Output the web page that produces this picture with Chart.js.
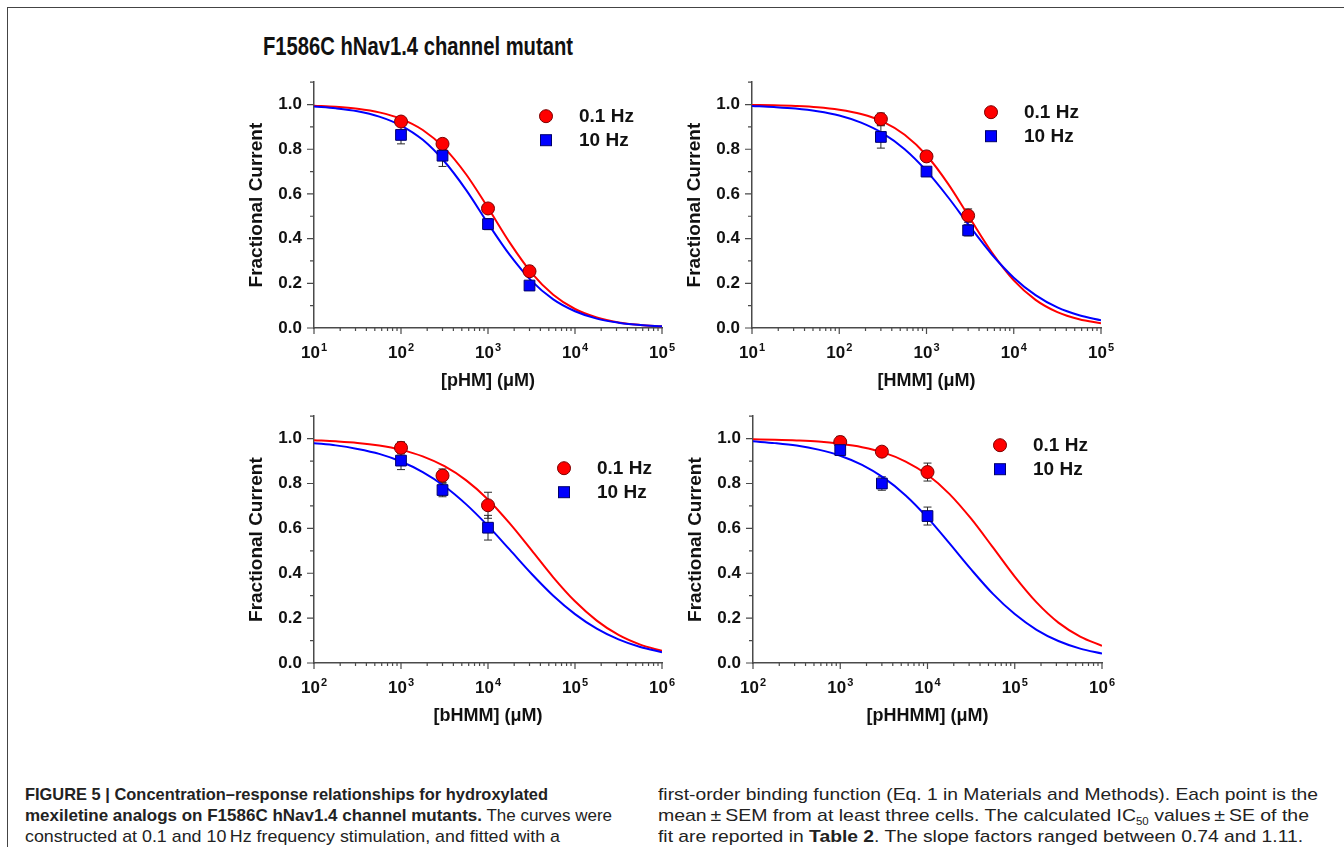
<!DOCTYPE html>
<html>
<head>
<meta charset="utf-8">
<script src="https://cdn.jsdelivr.net/npm/chart.js@4.4.1/dist/chart.umd.min.js"></script>
<style>
  body { margin: 0; background: #fff; width: 1344px; height: 847px; overflow: hidden; position: relative;
         font-family: "Liberation Sans", Arial, sans-serif; color: #111; }
  .frame { position: absolute; left: 7px; top: 7px; right: -2px; bottom: -2px;
           border-top: 1.5px solid #444; border-left: 1.5px solid #444; }
  .fit { position: absolute; white-space: nowrap; transform-origin: 0 50%; }
  .title { left: 263px; top: 32px; font-size: 25px; font-weight: bold; }
  canvas { position: absolute; }
  .cap { font-size: 17px; line-height: 21px; color: #222; }
  .cap b { font-weight: bold; }
</style>
</head>
<body>
<div class="frame"></div>
<div class="fit title" data-w="310">F1586C hNav1.4 channel mutant</div>

<canvas id="pHM" width="452" height="340" style="left:230px; top:60px;"></canvas>
<canvas id="HMM" width="453" height="340" style="left:668px; top:60px;"></canvas>
<canvas id="bHMM" width="452" height="341" style="left:230px; top:394px;"></canvas>
<canvas id="pHHMM" width="453" height="341" style="left:669px; top:394px;"></canvas>

<div class="fit cap" data-w="523" style="left:25px; top:784px;"><b>FIGURE 5 | Concentration–response relationships for hydroxylated</b></div>
<div class="fit cap" data-w="587" style="left:25px; top:805px;"><b>mexiletine analogs on F1586C hNav1.4 channel mutants.</b> The curves were</div>
<div class="fit cap" data-w="535" style="left:25px; top:826px;">constructed at 0.1 and 10&#8201;Hz frequency stimulation, and fitted with a</div>
<div class="fit cap" data-w="660" style="left:658px; top:784px;">first-order binding function (Eq. 1 in Materials and Methods). Each point is the</div>
<div class="fit cap" data-w="651" style="left:658px; top:805px;">mean&#8201;&plusmn;&#8201;SEM from at least three cells. The calculated IC<sub style="font-size:10px; line-height:0;">50</sub> values&#8201;&plusmn;&#8201;SE of the</div>
<div class="fit cap" data-w="645" style="left:658px; top:826px;">fit are reported in <b>Table 2</b>. The slope factors ranged between 0.74 and 1.11.</div>

<script>
// 축 눈금
const yTickValues = [0, 0.2, 0.4, 0.6, 0.8, 1.0];
const decadesLow = [10, 100, 1000, 10000, 100000];
const decadesHigh = [100, 1000, 10000, 100000, 1000000];
const expLow = ["1", "2", "3", "4", "5"];
const expHigh = ["2", "3", "4", "5", "6"];
const legendLabels = ["0.1 Hz", "10 Hz"];

// 피팅 곡선을 읽은 농도 (1/4 decade 간격)
const fitXLow = [10, 17.8, 31.6, 56.2, 100, 178, 316, 562, 1000, 1778, 3162, 5623, 10000, 17783, 31623, 56234, 100000];
const fitXHigh = [100, 178, 316, 562, 1000, 1778, 3162, 5623, 10000, 17783, 31623, 56234, 100000, 177828, 316228, 562341, 1000000];

// [pHM]
const pHM_conc = [100, 300, 1000, 3000];
const pHM_slow = [0.924, 0.824, 0.535, 0.254];
const pHM_slowErr = [0.012, 0.02, 0.015, 0.01];
const pHM_fast = [0.864, 0.771, 0.465, 0.19];
const pHM_fastErr = [0.04, 0.048, 0.025, 0.012];
const pHM_fitSlow = [0.995, 0.99, 0.981, 0.965, 0.936, 0.886, 0.805, 0.687, 0.538, 0.382, 0.247, 0.149, 0.085, 0.047, 0.025, 0.0137, 0.0073];
const pHM_fitFast = [0.991, 0.983, 0.97, 0.946, 0.906, 0.842, 0.745, 0.617, 0.468, 0.327, 0.211, 0.128, 0.075, 0.042, 0.024, 0.0132, 0.0073];

// [HMM]
const HMM_conc = [300, 1000, 3000];
const HMM_slow = [0.935, 0.768, 0.503];
const HMM_slowErr = [0.027, 0.012, 0.03];
const HMM_fast = [0.855, 0.70, 0.437];
const HMM_fastErr = [0.05, 0.012, 0.025];
const HMM_fitSlow = [0.998, 0.9965, 0.9935, 0.988, 0.977, 0.958, 0.924, 0.865, 0.773, 0.644, 0.49, 0.338, 0.213, 0.126, 0.071, 0.039, 0.021];
const HMM_fitFast = [0.994, 0.989, 0.982, 0.97, 0.951, 0.919, 0.871, 0.80, 0.703, 0.584, 0.453, 0.329, 0.225, 0.147, 0.092, 0.057, 0.0345];

// [bHMM]
const bHMM_conc = [1000, 3000, 10000];
const bHMM_slow = [0.959, 0.835, 0.703];
const bHMM_slowErr = [0.027, 0.03, 0.058];
const bHMM_fast = [0.902, 0.771, 0.603];
const bHMM_fastErr = [0.04, 0.03, 0.055];
const bHMM_fitSlow = [0.993, 0.988, 0.981, 0.969, 0.95, 0.921, 0.877, 0.814, 0.729, 0.622, 0.503, 0.382, 0.275, 0.189, 0.125, 0.082, 0.054];
const bHMM_fitFast = [0.98, 0.97, 0.954, 0.932, 0.898, 0.851, 0.788, 0.707, 0.611, 0.505, 0.398, 0.30, 0.218, 0.153, 0.105, 0.071, 0.048];

// [pHHMM]
const pHHMM_conc = [1000, 3000, 10000];
const pHHMM_slow = [0.985, 0.942, 0.851];
const pHHMM_slowErr = [0.025, 0.01, 0.04];
const pHHMM_fast = [0.949, 0.80, 0.655];
const pHHMM_fastErr = [0.02, 0.03, 0.04];
const pHHMM_fitSlow = [0.997, 0.995, 0.992, 0.987, 0.977, 0.962, 0.9375, 0.898, 0.839, 0.754, 0.643, 0.515, 0.385, 0.27, 0.18, 0.118, 0.077];
const pHHMM_fitFast = [0.988, 0.98, 0.969, 0.951, 0.924, 0.883, 0.825, 0.747, 0.648, 0.534, 0.417, 0.308, 0.218, 0.148, 0.098, 0.064, 0.042];

const RED = "#ff0000";
const BLUE = "#0000ff";
const AXIS = "#4a4a4a";
const FONT = "'Liberation Sans', Arial, sans-serif";

const toPts = (xs, ys) => xs.map((x, i) => ({ x: x, y: ys[i] }));

// 캡션/제목 폭 맞추기 (좁은 글꼴 흉내)
document.querySelectorAll(".fit").forEach((el) => {
    const w = el.getBoundingClientRect().width;
    el.style.transform = "scaleX(" + (+el.dataset.w / w).toFixed(4) + ")";
});

// 에러바 (SEM)
const errorBars = {
    id: "errorBars",
    beforeDatasetsDraw(chart) {
        const { ctx, scales } = chart;
        ctx.save();
        ctx.strokeStyle = "#2a2a2a";
        ctx.lineWidth = 1;
        chart.data.datasets.forEach((ds) => {
            if (!ds.err) return;
            ds.data.forEach((p, i) => {
                const px = scales.x.getPixelForValue(p.x);
                const top = scales.y.getPixelForValue(p.y + ds.err[i]);
                const bot = scales.y.getPixelForValue(p.y - ds.err[i]);
                ctx.beginPath();
                ctx.moveTo(px, top); ctx.lineTo(px, bot);
                ctx.moveTo(px - 4, top); ctx.lineTo(px + 4, top);
                ctx.moveTo(px - 4, bot); ctx.lineTo(px + 4, bot);
                ctx.stroke();
            });
        });
        ctx.restore();
    },
};

// 눈금선 + 10^n 라벨 + 범례
function makeDecor(decades, exps, leg) {
    return {
        id: "decor",
        afterDraw(chart) {
            const { ctx, chartArea, scales } = chart;
            const xs = scales.x, ys = scales.y;
            ctx.save();
            ctx.strokeStyle = AXIS;
            ctx.lineWidth = 1.2;
            ctx.beginPath();
            // x ticks
            decades.forEach((d, i) => {
                const px = xs.getPixelForValue(d);
                ctx.moveTo(px, chartArea.bottom); ctx.lineTo(px, chartArea.bottom + 6);
                if (i < decades.length - 1) {
                    for (let k = 2; k <= 9; k++) {
                        const mx = xs.getPixelForValue(d * k);
                        ctx.moveTo(mx, chartArea.bottom); ctx.lineTo(mx, chartArea.bottom + 3);
                    }
                }
            });
            // y ticks
            yTickValues.forEach((v) => {
                const py = ys.getPixelForValue(v);
                ctx.moveTo(chartArea.left, py); ctx.lineTo(chartArea.left - 7, py);
                const my = ys.getPixelForValue(v + 0.1);
                ctx.moveTo(chartArea.left, my); ctx.lineTo(chartArea.left - 4, my);
            });
            ctx.stroke();

            // 10^n labels
            ctx.fillStyle = "#111";
            ctx.textBaseline = "alphabetic";
            decades.forEach((d, i) => {
                const px = xs.getPixelForValue(d);
                ctx.font = "bold 17px " + FONT;
                const wb = ctx.measureText("10").width;
                ctx.font = "bold 11px " + FONT;
                const we = ctx.measureText(exps[i]).width;
                const x0 = px - (wb + we + 1) / 2;
                const base = chartArea.bottom + 29.5;
                ctx.font = "bold 17px " + FONT;
                ctx.fillText("10", x0, base);
                ctx.font = "bold 11px " + FONT;
                ctx.fillText(exps[i], x0 + wb + 1, base - 6.5);
            });

            // legend
            const lx = chartArea.left + leg.dx;
            const ly1 = chartArea.top + leg.dy;
            const ly2 = ly1 + 24;
            ctx.lineWidth = 1;
            ctx.fillStyle = RED;
            ctx.strokeStyle = "#7a0000";
            ctx.beginPath();
            ctx.arc(lx, ly1, 6.5, 0, Math.PI * 2);
            ctx.fill(); ctx.stroke();
            ctx.fillStyle = BLUE;
            ctx.strokeStyle = "#00006a";
            ctx.fillRect(lx - 5.5, ly2 - 5.5, 11, 11);
            ctx.strokeRect(lx - 5.5, ly2 - 5.5, 11, 11);
            ctx.fillStyle = "#111";
            ctx.font = "bold 19px " + FONT;
            ctx.textBaseline = "middle";
            ctx.fillText(legendLabels[0], lx + 33, ly1 + 1);
            ctx.fillText(legendLabels[1], lx + 33, ly2 + 1);
            ctx.restore();
        },
    };
}

function makePanel(id, p) {
    const ctx = document.getElementById(id).getContext("2d");
    return new Chart(ctx, {
        type: "scatter",
        data: {
            datasets: [
                {
                    label: legendLabels[1],
                    data: toPts(p.conc, p.fast),
                    err: p.fastErr,
                    pointStyle: "rect",
                    pointRadius: 7.6,
                    backgroundColor: BLUE,
                    borderColor: "#00006a",
                    borderWidth: 1,
                    order: 0,
                },
                {
                    label: legendLabels[0],
                    data: toPts(p.conc, p.slow),
                    err: p.slowErr,
                    pointStyle: "circle",
                    pointRadius: 6.5,
                    backgroundColor: RED,
                    borderColor: "#7a0000",
                    borderWidth: 1,
                    order: 0,
                },
                {
                    type: "line",
                    data: toPts(p.fitX, p.fitFast),
                    borderColor: BLUE,
                    borderWidth: 2,
                    pointRadius: 0,
                    fill: false,
                    cubicInterpolationMode: "monotone",
                    order: 1,
                },
                {
                    type: "line",
                    data: toPts(p.fitX, p.fitSlow),
                    borderColor: RED,
                    borderWidth: 2,
                    pointRadius: 0,
                    fill: false,
                    cubicInterpolationMode: "monotone",
                    order: 1,
                },
            ],
        },
        options: {
            responsive: false,
            animation: false,
            layout: { padding: { top: 18, right: 20, left: 0, bottom: 0 } },
            plugins: { legend: { display: false }, tooltip: { enabled: false } },
            scales: {
                x: {
                    type: "logarithmic",
                    position: "bottom",
                    min: p.decades[0],
                    max: p.decades[p.decades.length - 1],
                    afterBuildTicks: (s) => { s.ticks = p.decades.map((v) => ({ value: v })); },
                    afterFit: (s) => { s.height = 72; },
                    grid: { display: false, drawTicks: false },
                    border: { display: true, color: AXIS, width: 1.5 },
                    ticks: { display: false },
                    title: {
                        display: true,
                        text: p.xTitle,
                        color: "#111",
                        font: { family: FONT, size: 18, weight: "bold", lineHeight: 1.2 },
                        padding: { top: 0, bottom: 8 },
                    },
                },
                y: {
                    type: "linear",
                    min: 0,
                    max: 1.1,
                    afterBuildTicks: (s) => { s.ticks = yTickValues.map((v) => ({ value: v })); },
                    afterFit: (s) => { s.width = 84; },
                    grid: { display: false, drawTicks: false },
                    border: { display: true, color: AXIS, width: 1.5 },
                    ticks: {
                        padding: 12,
                        color: "#111",
                        font: { family: FONT, size: 17, weight: "bold" },
                        callback: (v) => v.toFixed(1),
                    },
                    title: {
                        display: true,
                        text: "Fractional Current",
                        color: "#111",
                        font: { family: FONT, size: 19, weight: "bold", lineHeight: 1.2 },
                        padding: { top: 15, bottom: 0 },
                    },
                },
            },
        },
        plugins: [errorBars, makeDecor(p.decades, p.exps, p.leg)],
    });
}

makePanel("pHM", {
    conc: pHM_conc, slow: pHM_slow, slowErr: pHM_slowErr, fast: pHM_fast, fastErr: pHM_fastErr,
    fitX: fitXLow, fitSlow: pHM_fitSlow, fitFast: pHM_fitFast,
    decades: decadesLow, exps: expLow, xTitle: "[pHM] (μM)", leg: { dx: 232, dy: 34 },
});
makePanel("HMM", {
    conc: HMM_conc, slow: HMM_slow, slowErr: HMM_slowErr, fast: HMM_fast, fastErr: HMM_fastErr,
    fitX: fitXLow, fitSlow: HMM_fitSlow, fitFast: HMM_fitFast,
    decades: decadesLow, exps: expLow, xTitle: "[HMM] (μM)", leg: { dx: 239, dy: 30 },
});
makePanel("bHMM", {
    conc: bHMM_conc, slow: bHMM_slow, slowErr: bHMM_slowErr, fast: bHMM_fast, fastErr: bHMM_fastErr,
    fitX: fitXHigh, fitSlow: bHMM_fitSlow, fitFast: bHMM_fitFast,
    decades: decadesHigh, exps: expHigh, xTitle: "[bHMM] (μM)", leg: { dx: 250, dy: 52 },
});
makePanel("pHHMM", {
    conc: pHHMM_conc, slow: pHHMM_slow, slowErr: pHHMM_slowErr, fast: pHHMM_fast, fastErr: pHHMM_fastErr,
    fitX: fitXHigh, fitSlow: pHHMM_fitSlow, fitFast: pHHMM_fitFast,
    decades: decadesHigh, exps: expHigh, xTitle: "[pHHMM] (μM)", leg: { dx: 247, dy: 29 },
});
</script>
</body>
</html>
